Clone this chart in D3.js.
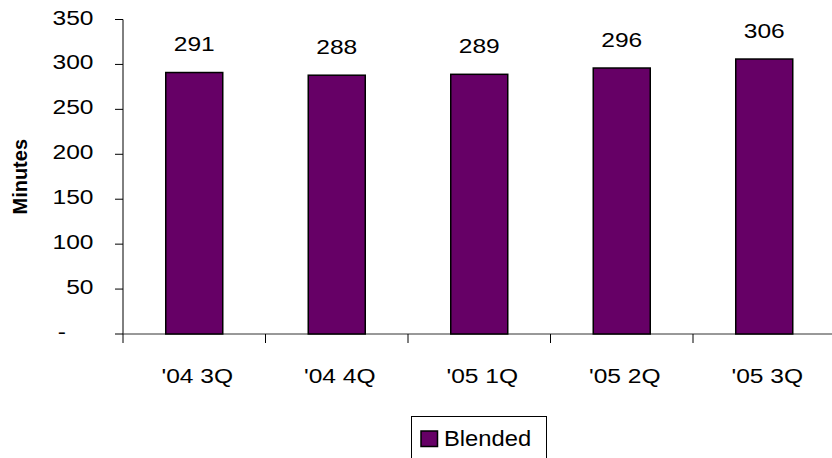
<!DOCTYPE html>
<html>
<head>
<meta charset="utf-8">
<script src="https://cdn.jsdelivr.net/npm/d3@7/dist/d3.min.js"></script>
<style>
  html, body { margin: 0; padding: 0; background: #fff; }
  svg { display: block; }
  text { font-family: "Liberation Sans", Arial, sans-serif; fill: #000; }
</style>
</head>
<body>
<svg id="chart" width="832" height="458"></svg>
<script>
// Average minutes of use per quarter
const categories = ["'04 3Q", "'04 4Q", "'05 1Q", "'05 2Q", "'05 3Q"];
const blended = [291, 288, 289, 296, 306];
const yTicks = [0, 50, 100, 150, 200, 250, 300, 350];
const seriesName = "Blended";
const axisTitle = "Minutes";

const W = 832, H = 458;
const plot = { left: 123, top: 19.5, bottom: 334, right: 835.5 };
const barFill = "#660066";
const fontSize = 21;
const stretch = 1.17;

const svg = d3.select("#chart");

const x = d3.scaleBand()
  .domain(categories)
  .range([plot.left, plot.right])
  .paddingInner(0.6)
  .paddingOuter(0.3);

const y = d3.scaleLinear()
  .domain([0, 350])
  .range([plot.bottom, plot.top]);

// helper for the slightly wide text
function label(g, tx, ty, str, anchor, size, sx) {
  return g.append("text")
    .attr("transform", `translate(${tx},${ty}) scale(${sx},1)`)
    .attr("text-anchor", anchor)
    .style("font-size", size + "px")
    .text(str);
}

// y axis line and ticks
svg.append("line")
  .attr("x1", plot.left).attr("x2", plot.left)
  .attr("y1", y(350)).attr("y2", plot.bottom)
  .attr("stroke", "#000").attr("stroke-width", 1);

const yg = svg.append("g");
yTicks.forEach(v => {
  yg.append("line")
    .attr("x1", plot.left - 8).attr("x2", plot.left)
    .attr("y1", y(v)).attr("y2", y(v))
    .attr("stroke", "#000").attr("stroke-width", 1);
  if (v === 0) {
    label(yg, 66, y(v) + 5, "-", "end", fontSize, stretch);
  } else {
    label(yg, 93.5, y(v) + 5, d3.format("d")(v), "end", fontSize, stretch);
  }
});

// x axis line with category separators
svg.append("line")
  .attr("x1", plot.left).attr("x2", W)
  .attr("y1", plot.bottom).attr("y2", plot.bottom)
  .attr("stroke", "#333").attr("stroke-width", 1);

const step = x.step();
d3.range(categories.length + 1).forEach(i => {
  const bx = plot.left + i * step;
  svg.append("line")
    .attr("x1", bx).attr("x2", bx)
    .attr("y1", plot.bottom).attr("y2", plot.bottom + 9)
    .attr("stroke", "#000").attr("stroke-width", 1);
});

// bars
svg.append("g").selectAll("rect")
  .data(blended)
  .join("rect")
  .attr("x", (d, i) => x(categories[i]))
  .attr("y", d => y(d))
  .attr("width", x.bandwidth())
  .attr("height", d => plot.bottom - y(d))
  .attr("fill", barFill)
  .attr("stroke", "#000")
  .attr("stroke-width", 1.5);

// value labels
const vg = svg.append("g");
blended.forEach((d, i) => {
  label(vg, x(categories[i]) + x.bandwidth() / 2, y(d) - 21.5, String(d), "middle", fontSize, stretch);
});

// category labels
const cg = svg.append("g");
categories.forEach(c => {
  label(cg, x(c) + x.bandwidth() / 2 + 3, 383, c, "middle", fontSize, stretch);
});

// axis title
svg.append("text")
  .attr("transform", `translate(27,${(plot.top + plot.bottom) / 2}) rotate(-90)`)
  .attr("text-anchor", "middle")
  .style("font-size", "20px")
  .style("font-weight", "bold")
  .text(axisTitle);

// legend
const lg = svg.append("g");
lg.append("rect")
  .attr("x", 411.5).attr("y", 416.5)
  .attr("width", 135).attr("height", 60)
  .attr("fill", "#fff").attr("stroke", "#000").attr("stroke-width", 1);
lg.append("rect")
  .attr("x", 421).attr("y", 431)
  .attr("width", 16.5).attr("height", 15.5)
  .attr("fill", barFill).attr("stroke", "#000").attr("stroke-width", 1.5);
label(lg, 444, 445.5, seriesName, "start", 22, 1.08);
</script>
</body>
</html>
